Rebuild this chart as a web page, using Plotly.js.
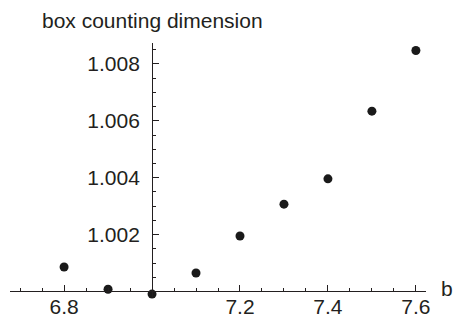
<!DOCTYPE html>
<html>
<head>
<meta charset="utf-8">
<script src="https://cdn.plot.ly/plotly-3.0.1.min.js"></script>
<style>html,body{margin:0;padding:0;background:#fff;}</style>
</head>
<body>
<div id="chart" style="width:453px;height:321px;"></div>
<script>
const bValues = [6.8, 6.9, 7.0, 7.1, 7.2, 7.3, 7.4, 7.5, 7.6];
const dimValues = [1.00086, 1.00008, 0.99991, 1.00065, 1.00195, 1.00307, 1.00396, 1.00634, 1.00847];
const xTickVals = [6.8, 7.2, 7.4, 7.6];
const xTickText = ['6.8', '7.2', '7.4', '7.6'];
const yTickVals = [1.002, 1.004, 1.006, 1.008];
const yTickText = ['1.002', '1.004', '1.006', '1.008'];

const ink = '#231f20';
const fam = 'Liberation Sans, Arial, Helvetica, sans-serif';

const trace = {
  x: bValues, y: dimValues, type: 'scatter', mode: 'markers',
  marker: {size: 9, color: '#1a1a1a'}, cliponaxis: false, hoverinfo: 'skip'
};

const layout = {
  width: 453, height: 321,
  margin: {l: 10, r: 27, t: 43, b: 24, pad: 0},
  paper_bgcolor: '#fff', plot_bgcolor: '#fff',
  showlegend: false,
  font: {family: fam, size: 21, color: ink},
  xaxis: {
    range: [6.677, 7.623], showgrid: false, zeroline: false,
    showline: true, linecolor: ink, linewidth: 1,
    anchor: 'free', position: 0.0217, side: 'bottom',
    tickmode: 'array', tickvals: xTickVals, ticktext: xTickText,
    ticks: 'inside', ticklen: 6, tickcolor: ink, tickwidth: 1,
    minor: {dtick: 0.05, tick0: 6.7, ticks: 'inside', ticklen: 3, tickcolor: ink, tickwidth: 1},
    tickfont: {family: fam, size: 21, color: ink}, ticklabelstandoff: -4
  },
  yaxis: {
    range: [0.999807, 1.008735], showgrid: false, zeroline: false,
    showline: true, linecolor: ink, linewidth: 1,
    anchor: 'free', position: 0.3416, side: 'left',
    tickmode: 'array', tickvals: yTickVals, ticktext: yTickText,
    ticks: 'inside', ticklen: 6, tickcolor: ink, tickwidth: 1,
    minor: {dtick: 0.0005, tick0: 1.0, ticks: 'inside', ticklen: 3, tickcolor: ink, tickwidth: 1},
    tickfont: {family: fam, size: 21, color: ink}, ticklabelstandoff: 8
  },
  annotations: [
    {
      text: 'box counting dimension', xref: 'paper', x: 30/416, xanchor: 'left',
      yref: 'paper', y: 1, yanchor: 'middle', yshift: 23,
      showarrow: false, font: {family: fam, size: 21, color: ink}
    },
    {
      text: 'b', xref: 'paper', x: 1, xanchor: 'left', xshift: 13,
      yref: 'y', y: 1.0, yanchor: 'middle', yshift: 3,
      showarrow: false, font: {family: fam, size: 21, color: ink}
    }
  ]
};

Plotly.newPlot('chart', [trace], layout, {staticPlot: true, displayModeBar: false});
</script>
</body>
</html>
